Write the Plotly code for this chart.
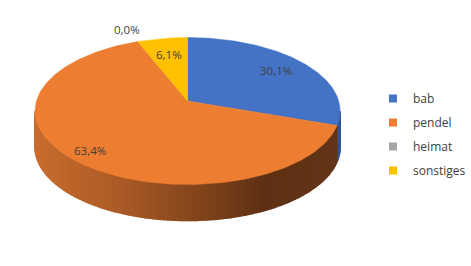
import numpy as np
import plotly.graph_objects as go

# ---- data ----
labels = ["bab", "pendel", "heimat", "sonstiges"]
values = [30.1, 63.4, 0.0, 6.1]
label_texts = ["30,1%", "63,4%", "0,0%", "6,1%"]

# ---- style ----
colors = ["#4472C4", "#ED7D31", "#A5A5A5", "#FFC000"]
side_dark = {"bab": "#2F5597", "pendel": None, "heimat": "#7F7F7F", "sonstiges": "#BF9000"}
label_frac = [0.71, 0.93, 1.05, 0.65]
W, H = 471, 266
cx, cy = 192.5, 111.0       # ellipse centre (pixels)
apex = (192.5, 101.0)       # slice apex (perspective)
rx, ry = 156.5, 73.5
depth = 36.0
font_fam = "Open Sans, Liberation Sans, sans-serif"
txt_col = "#404040"

def pt(t, dy=0.0):
    return cx + rx * np.sin(t), cy - ry * np.cos(t) + dy

def ray_param(theta):
    """ellipse parameter where the ray from apex at pie angle theta hits the rim"""
    dx, dy = rx * np.sin(theta), -ry * np.cos(theta)
    ax, ay = (apex[0] - cx) / rx, (apex[1] - cy) / ry
    ux, uy = dx / rx, dy / ry
    a = ux * ux + uy * uy
    b = 2 * (ax * ux + ay * uy)
    c = ax * ax + ay * ay - 1
    s = (-b + np.sqrt(b * b - 4 * a * c)) / (2 * a)
    px, py = ax + s * ux, ay + s * uy
    t = np.arctan2(px, -py)
    # keep continuity with theta
    while t < theta - np.pi:
        t += 2 * np.pi
    while t > theta + np.pi:
        t -= 2 * np.pi
    return t

total = sum(values)
angles = [0.0]
for v in values:
    angles.append(angles[-1] + v / total * 2 * np.pi)
bounds = [ray_param(a) for a in angles]
bounds[0] = 0.0
bounds[-1] = 2 * np.pi

fig = go.Figure()

def lerp_col(stops, x):
    xs = [s[0] for s in stops]
    cs = [s[1] for s in stops]
    for i in range(len(xs) - 1):
        if xs[i] <= x <= xs[i + 1]:
            f = (x - xs[i]) / (xs[i + 1] - xs[i])
            a, b = cs[i], cs[i + 1]
            return "rgb(%d,%d,%d)" % tuple(int(round(a[k] + (b[k] - a[k]) * f)) for k in range(3))
    c = cs[0] if x < xs[0] else cs[-1]
    return "rgb(%d,%d,%d)" % c

orange_side = [(36, (200, 108, 46)), (120, (172, 91, 38)), (200, (132, 69, 28)),
               (270, (94, 49, 20)), (349, (100, 53, 24))]

# side wall (front half, angles pi/2 .. 3pi/2)
nstrip = 120
ts = np.linspace(np.pi / 2, 3 * np.pi / 2, nstrip + 1)
for i in range(nstrip):
    t1, t2 = ts[i], ts[i + 1]
    tm = 0.5 * (t1 + t2)
    idx = max(j for j in range(len(values)) if bounds[j] <= tm)
    if values[idx] == 0:
        continue
    xm, _ = pt(tm)
    if labels[idx] == "pendel":
        col = lerp_col(orange_side, xm)
    else:
        col = side_dark[labels[idx]]
    tt = np.linspace(t1, t2, 4)
    xt, yt = pt(tt)
    xb, yb = pt(tt[::-1], depth)
    xs = list(xt) + list(xb) + [xt[0]]
    ys = list(yt) + list(yb) + [yt[0]]
    fig.add_trace(go.Scatter(x=xs, y=ys, mode="lines", fill="toself", fillcolor=col,
                             line=dict(color=col, width=1.6), hoverinfo="skip", showlegend=False))

# top face slices
for i, v in enumerate(values):
    if v == 0:
        continue
    tt = np.linspace(bounds[i], bounds[i + 1], 200)
    xa, ya = pt(tt)
    xs = [apex[0]] + list(xa) + [apex[0]]
    ys = [apex[1]] + list(ya) + [apex[1]]
    fig.add_trace(go.Scatter(x=xs, y=ys, mode="lines", fill="toself", fillcolor=colors[i],
                             line=dict(color=colors[i], width=0.5), hoverinfo="skip", showlegend=False))

# data labels
for i, v in enumerate(values):
    tm = 0.5 * (angles[i] + angles[i + 1])
    f = label_frac[i]
    lx = apex[0] + f * rx * np.sin(tm)
    ly = apex[1] - f * ry * np.cos(tm)
    fig.add_annotation(x=lx, y=ly, text=label_texts[i], showarrow=False,
                       font=dict(size=11.5, color=txt_col, family=font_fam))

# legend traces
for i, lab in enumerate(labels):
    fig.add_trace(go.Scatter(x=[None], y=[None], mode="markers", name=lab,
                             legendgroup=lab,
                             marker=dict(symbol="square", size=8, color=colors[i])))

fig.update_layout(
    width=W, height=H, margin=dict(l=0, r=0, t=0, b=0),
    plot_bgcolor="white", paper_bgcolor="white",
    xaxis=dict(range=[0, W], visible=False, fixedrange=True),
    yaxis=dict(range=[H, 0], visible=False, fixedrange=True),
    showlegend=True,
    legend=dict(x=383 / W, y=1 - 84 / H, xanchor="left", yanchor="top",
                font=dict(size=12, color=txt_col, family=font_fam),
                tracegroupgap=5, itemwidth=30, bgcolor="rgba(0,0,0,0)"),
    hovermode=False,
)

fig.write_html("out.html")
